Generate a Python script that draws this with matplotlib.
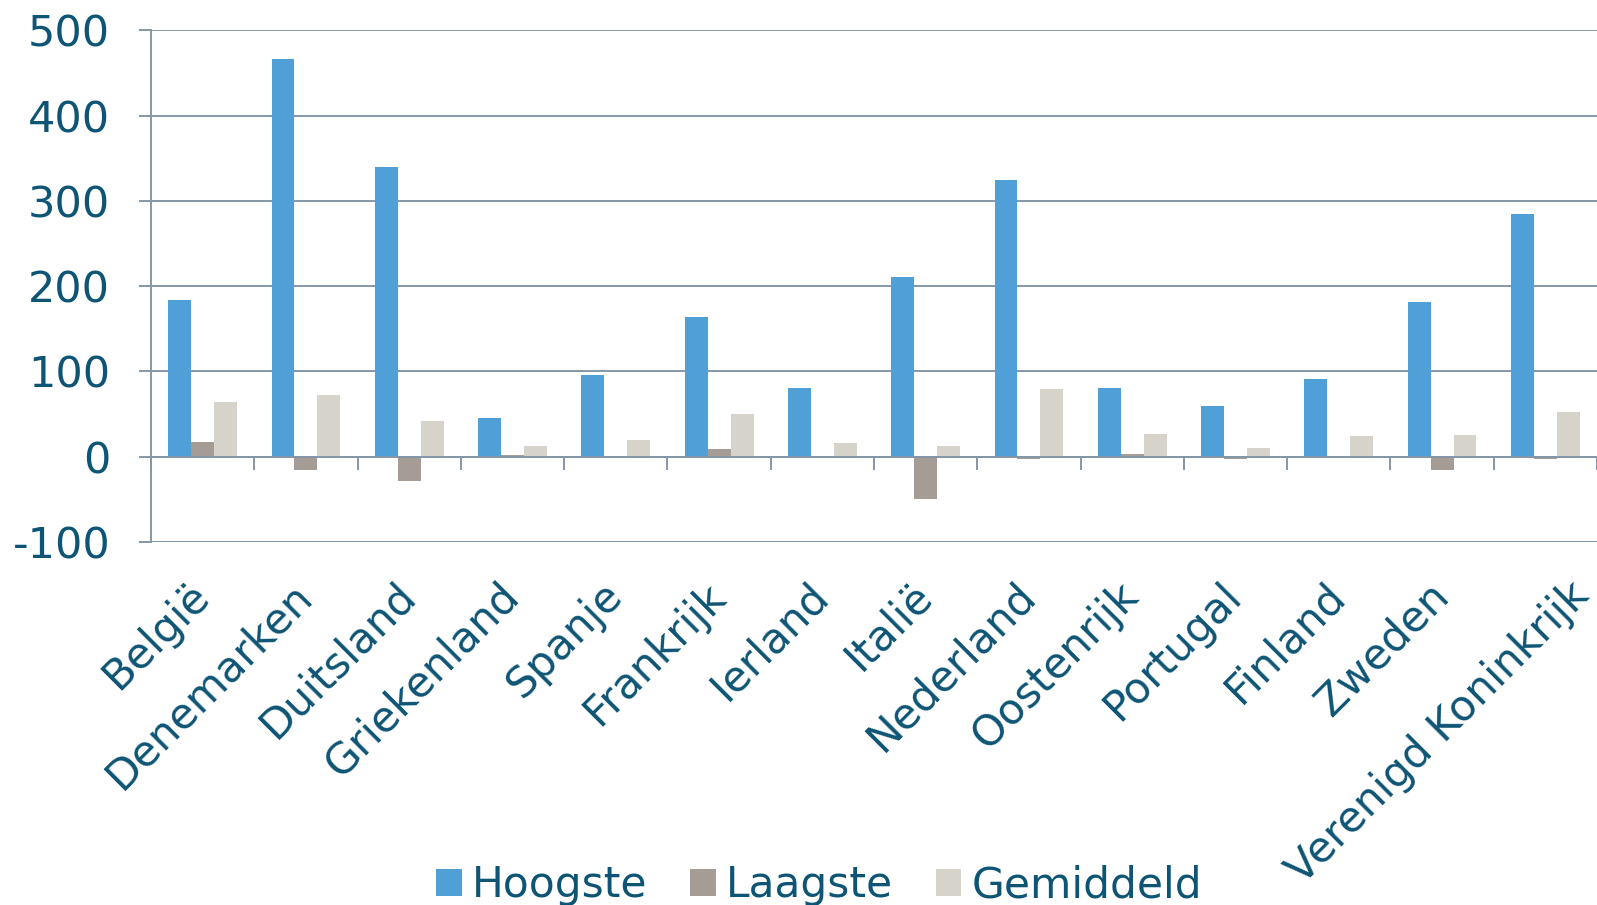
import matplotlib
matplotlib.use("Agg")
import matplotlib.pyplot as plt
import matplotlib.transforms as mtransforms
import numpy as np
from matplotlib.patches import Patch

categories = ["België", "Denemarken", "Duitsland", "Griekenland", "Spanje",
              "Frankrijk", "Ierland", "Italië", "Nederland", "Oostenrijk",
              "Portugal", "Finland", "Zweden", "Verenigd Koninkrijk"]
hoogste = [184, 466, 340, 45, 96, 164, 81, 211, 325, 81, 59, 91, 181, 285]
laagste = [17, -15, -28, 1.5, 0.5, 9, 0.5, -49, -2.5, 3, -2.5, -2, -16, -3]
gemiddeld = [64, 73, 42, 12.5, 19.5, 50, 16, 12.5, 80, 26.5, 10, 24, 25, 52]
series_names = ["Hoogste", "Laagste", "Gemiddeld"]
yticks = [-100, 0, 100, 200, 300, 400, 500]

colors = ["#519FD7", "#A59C96", "#D6D3CB"]
text_color = "#0E5474"
grid_color = "#8497A9"

fig = plt.figure(figsize=(15.97, 9.05), dpi=100)
ax = fig.add_axes([151/1597, 1 - 542/905, 1 - 151/1597, (542 - 30.5)/905])

n = len(categories)
x = np.arange(n) + 0.5
w = 1 / 4.5
for i, (vals, c) in enumerate(zip([hoogste, laagste, gemiddeld], colors)):
    ax.bar(x + (i - 1) * w, vals, width=w, color=c, edgecolor="none", zorder=3)

ax.set_xlim(0, n)
ax.set_ylim(-100, 500)
ax.set_yticks(yticks)
ax.set_yticklabels([str(v) for v in yticks], fontsize=31, color=text_color)
ax.tick_params(axis="y", length=8.3, width=1.4, color=grid_color, pad=21)
ax.yaxis.grid(True, color=grid_color, linewidth=1.4, zorder=1)

for s in ["top", "right"]:
    ax.spines[s].set_visible(False)
ax.spines["left"].set_color(grid_color)
ax.spines["left"].set_linewidth(1.4)
ax.spines["bottom"].set_position(("data", 0))
ax.spines["bottom"].set_color(grid_color)
ax.spines["bottom"].set_linewidth(1.4)
ax.spines["bottom"].set_zorder(4)
ax.set_xticks(np.arange(0, n + 1))
ax.set_xticklabels([])
ax.tick_params(axis="x", length=9, width=1.4, color=grid_color, direction="out")

sec = ax.secondary_xaxis("bottom")
sec.set_xticks(x)
sec.set_xticklabels(categories, rotation=45, ha="right", va="center",
                    rotation_mode="anchor", fontsize=30.5, color=text_color)
sec.tick_params(axis="x", length=0, pad=34)
sec.spines["bottom"].set_visible(False)

# the long last label sits a bit further right in the reference
last = sec.get_xticklabels()[-1]
last.set_transform(last.get_transform() +
                   mtransforms.ScaledTranslation(0.37, 0, fig.dpi_scale_trans))

handles = [Patch(facecolor=c, edgecolor="none") for c in colors]
leg = fig.legend(handles, series_names, loc="center", bbox_to_anchor=(0.513, 1 - 885/905),
                 ncol=3, frameon=False, fontsize=30.5, handlelength=0.6, handleheight=0.6,
                 handletextpad=0.25, columnspacing=1.0, borderpad=0)
for t in leg.get_texts():
    t.set_color(text_color)

fig.savefig("out.png", dpi=100)
